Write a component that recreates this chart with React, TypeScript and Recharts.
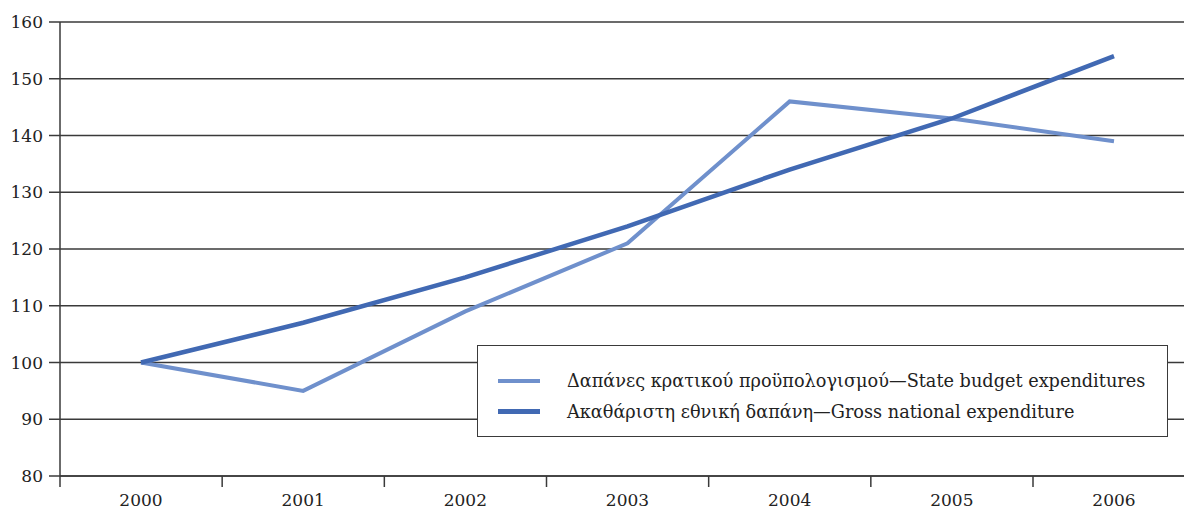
import React from 'react'
import { LineChart, Line, XAxis, YAxis, CartesianGrid, Legend } from 'recharts'

const years = ['2000', '2001', '2002', '2003', '2004', '2005', '2006']
const stateBudget = [100, 95, 109, 121, 146, 143, 139]
const grossNational = [100, 107, 115, 124, 134, 143, 154]
const yTicks = [80, 90, 100, 110, 120, 130, 140, 150, 160]

const SERIES = [
  { key: 'state', name: 'Δαπάνες κρατικού προϋπολογισμού—State budget expenditures', color: '#6f90cc', width: 4 },
  { key: 'gross', name: 'Ακαθάριστη εθνική δαπάνη—Gross national expenditure', color: '#4169b3', width: 4.5 },
]

const data = years.map((year, i) => ({ year, state: stateBudget[i], gross: grossNational[i] }))

const FONT = '"DejaVu Serif", "Liberation Serif", serif'
const AXIS_COLOR = '#3a3a3a'
const HALF_BAND = 81

function YearTick({ x, y, payload }: any) {
  return (
    <g>
      <line x1={x - HALF_BAND} y1={y} x2={x - HALF_BAND} y2={y + 11} stroke={AXIS_COLOR} strokeWidth={1.5} />
      <text x={x} y={y + 30} textAnchor="middle" fontSize={17} fontFamily={FONT} fill="#222">
        {payload.value}
      </text>
    </g>
  )
}

function LegendBox() {
  return (
    <div
      style={{
        width: 691,
        height: 92,
        border: `1.5px solid ${AXIS_COLOR}`,
        background: '#fff',
        boxSizing: 'border-box',
        fontFamily: FONT,
        fontSize: 17.7,
        color: '#222',
        paddingTop: 19,
      }}
    >
      {SERIES.map((s) => (
        <div key={s.key} style={{ display: 'flex', alignItems: 'center', height: 31, whiteSpace: 'nowrap' }}>
          <div style={{ width: 42, height: s.width, background: s.color, marginLeft: 20, marginRight: 27 }} />
          <span>{s.name}</span>
        </div>
      ))}
    </div>
  )
}

export default function App() {
  return (
    <div style={{ width: 1184, height: 514, overflow: 'hidden', position: 'absolute', left: 0, top: 0, background: '#fff' }}>
      <LineChart width={1200} height={514} data={data} margin={{ top: 22, right: 5, bottom: 0, left: 0 }}>
        <CartesianGrid vertical={false} stroke={AXIS_COLOR} strokeWidth={1.5} />
        <XAxis
          dataKey="year"
          padding={{ left: HALF_BAND, right: HALF_BAND }}
          height={38}
          tickLine={false}
          tickSize={0}
          tickMargin={0}
          axisLine={{ stroke: AXIS_COLOR, strokeWidth: 1.5 }}
          tick={<YearTick />}
          interval={0}
        />
        <YAxis
          domain={[80, 160]}
          ticks={yTicks}
          width={60}
          tickSize={11}
          tickMargin={6}
          tickLine={{ stroke: AXIS_COLOR, strokeWidth: 1.5 }}
          axisLine={{ stroke: AXIS_COLOR, strokeWidth: 1.5 }}
          tick={{ fontSize: 17, fontFamily: FONT, fill: '#222' }}
        />
        <Legend
          content={<LegendBox />}
          layout="horizontal"
          verticalAlign="middle"
          align="center"
          wrapperStyle={{ left: 477, top: 345, width: 691, height: 92 }}
        />
        {SERIES.map((s) => (
          <Line
            key={s.key}
            type="linear"
            dataKey={s.key}
            name={s.name}
            stroke={s.color}
            strokeWidth={s.width}
            dot={false}
            activeDot={false}
            isAnimationActive={false}
          />
        ))}
      </LineChart>
    </div>
  )
}
